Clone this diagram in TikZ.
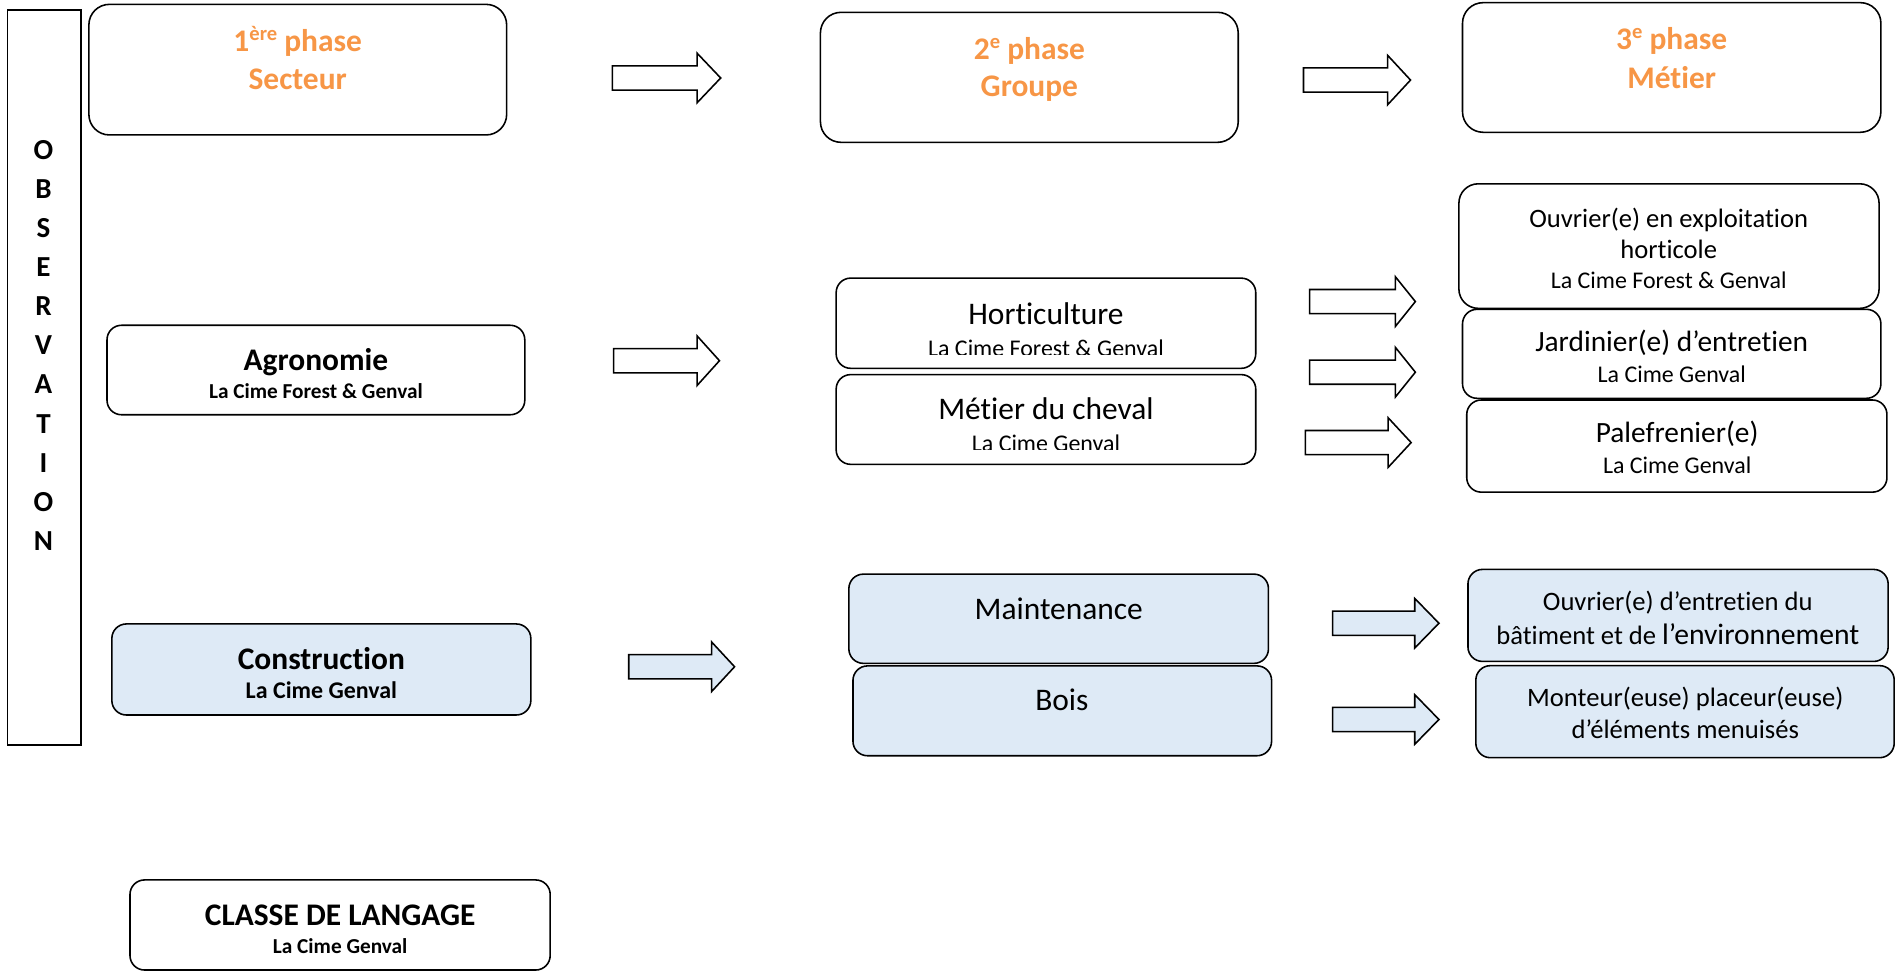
\documentclass[tikz,border=0pt]{standalone}
\usepackage{fontspec}
\setmainfont{Carlito}[Ligatures={NoCommon,NoRare,NoContextual}, Contextuals={NoAlternate}]
\definecolor{orangeh}{HTML}{F79646}
\definecolor{lblue}{HTML}{DEEAF6}
\newcommand\szL{\fontsize{26}{31}\selectfont}
\newcommand\szJ{\fontsize{24.3}{29}\selectfont}
\newcommand\szM{\fontsize{22}{26}\selectfont}
\newcommand\szS{\fontsize{19.8}{24}\selectfont}
\newcommand\szB{\fontsize{17.6}{21}\selectfont}
\newcommand\supx[1]{\raisebox{9pt}{\fontsize{17}{17}\selectfont #1}}
\newcommand\blockarrow[5]{\draw[#1] (#2,#5-10) -- (#3,#5-10) -- (#3,#5-20.5) -- (#4,#5) -- (#3,#5+20.5) -- (#3,#5+10) -- (#2,#5+10) -- cycle;}
\tikzset{
  rbox/.style={draw=black, line width=1.3pt, fill=white, anchor=north west, inner sep=0pt, outer sep=0pt},
  bbox/.style={rbox, fill=lblue},
  tallr/.style={rounded corners=17pt},
  shortr/.style={rounded corners=12pt},
  txt/.style={anchor=base, inner sep=0pt, outer sep=0pt, text=black},
  head/.style={txt, text=orangeh, font=\bfseries\szL},
  wa/.style={draw=black, line width=1.3pt, fill=white, line join=miter},
  ba/.style={wa, fill=lblue},
}
\begin{document}
\begin{tikzpicture}[x=1pt, y=-1pt]
\useasboundingbox (0,0) rectangle (1568,803);
\fill[white] (0,0) rectangle (1568,803);

% OBSERVATION column
\node[draw=black, line width=1.3pt, anchor=north west, inner sep=0pt, minimum width=61pt, minimum height=608pt] (obs) at (5.5,7.5) {};
\foreach \l [count=\i] in {O,B,S,E,R,V,A,T,I,O,N}
  \node[txt, font=\bfseries\fontsize{24}{28}\selectfont] (obs\i) at (36,{132+(\i-1)*32.3}) {\l};

% phase headers
\node[rbox, tallr, minimum width=345.5pt, minimum height=108pt] (p1) at (73.5,3.6) {};
\node[head] (p1a) at (246.2,42.7) {1\supx{ère} phase};
\node[head] (p1b) at (246.2,74.4) {Secteur};
\node[rbox, tallr, minimum width=345.5pt, minimum height=107.5pt] (p2) at (678.5,10.2) {};
\node[head] (p2a) at (851.3,49) {2\supx{e} phase};
\node[head] (p2b) at (851.3,80) {Groupe};
\node[rbox, tallr, minimum width=346pt, minimum height=107.2pt] (p3) at (1209.5,2.2) {};
\node[head] (p3a) at (1382.5,40.8) {3\supx{e} phase};
\node[head] (p3b) at (1382.5,73) {Métier};

\blockarrow{wa}{506.5}{576.5}{596}{64.5}
\blockarrow{wa}{1078}{1147.5}{1166.5}{66.2}

% Agronomie
\node[rbox, shortr, minimum width=345.5pt, minimum height=74pt] (agro) at (88.5,269) {};
\node[txt, font=\bfseries\szL] (agroa) at (261.3,306.5) {Agronomie};
\node[txt, font=\bfseries\szB] (agrob) at (261.3,329.5) {La Cime Forest \& Genval};
\blockarrow{wa}{507.5}{576.5}{595}{298.3}

\node[rbox, shortr, minimum width=347pt, minimum height=74.6pt] (horti) at (691.5,230) {};
\node[txt, font=\szL] (hortia) at (865,268) {Horticulture};
\begin{scope}
  \clip (691.5,230) rectangle (1038.5,293.3);
  \node[txt, font=\szS] (hortib) at (865,294.8) {La Cime Forest \& Genval};
\end{scope}
\node[rbox, shortr, minimum width=347pt, minimum height=74.2pt] (cheval) at (691.5,309.8) {};
\node[txt, font=\szL] (chevala) at (865,347.3) {Métier du cheval};
\begin{scope}
  \clip (691.5,309.8) rectangle (1038.5,371.4);
  \node[txt, font=\szS] (chevalb) at (865,373.8) {La Cime Genval};
\end{scope}

\blockarrow{wa}{1083}{1154}{1170.5}{249.4}
\blockarrow{wa}{1083}{1154}{1170.5}{307.8}
\blockarrow{wa}{1079.5}{1148}{1167}{366}

\node[rbox, rounded corners=16pt, minimum width=347.5pt, minimum height=103pt] (oeh) at (1206.5,152) {};
\node[txt, font=\szM] (oeha) at (1380,188) {Ouvrier(e) en exploitation};
\node[txt, font=\szM] (oehb) at (1380,213.6) {horticole};
\node[txt, font=\szS] (oehc) at (1380,238.7) {La Cime Forest \& Genval};
\node[rbox, shortr, minimum width=346pt, minimum height=73.6pt] (jard) at (1209.5,255.8) {};
\node[txt, font=\szJ] (jarda) at (1382.5,290.8) {Jardinier(e) d’entretien};
\node[txt, font=\szS] (jardb) at (1382.5,316.5) {La Cime Genval};
\node[rbox, shortr, minimum width=347.5pt, minimum height=76.2pt] (palef) at (1213,330.8) {};
\node[txt, font=\szJ] (palefa) at (1387,366) {Palefrenier(e)};
\node[txt, font=\szS] (palefb) at (1387,391.4) {La Cime Genval};

% Construction
\node[bbox, shortr, minimum width=346.5pt, minimum height=75.3pt] (constr) at (92.5,516) {};
\node[txt, font=\bfseries\szL] (constra) at (265.8,554) {Construction};
\node[txt, font=\bfseries\szS] (constrb) at (265.8,577.5) {La Cime Genval};
\blockarrow{ba}{520}{588.5}{607.5}{551.4}

\node[bbox, shortr, minimum width=347pt, minimum height=73.8pt] (maint) at (702,474.8) {};
\node[txt, font=\szL] (mainta) at (875.6,512.3) {Maintenance};
\node[bbox, shortr, minimum width=346.2pt, minimum height=74.3pt] (bois) at (705.4,550.7) {};
\node[txt, font=\szL] (boisa) at (878.2,587.7) {Bois};

\blockarrow{ba}{1102}{1170}{1190}{515.4}
\blockarrow{ba}{1102}{1170}{1190}{595}

\node[bbox, shortr, minimum width=347.5pt, minimum height=76.1pt] (oee) at (1214,470.9) {};
\node[txt, font=\szM] (oeea) at (1387.5,504.5) {Ouvrier(e) d’entretien du};
\node[txt, font=\szM] (oeeb) at (1387.5,533.4) {bâtiment et de {\fontsize{24.5}{29}\selectfont l’environnement}};
\node[bbox, shortr, minimum width=346pt, minimum height=76.1pt] (mont) at (1220.5,550.5) {};
\node[txt, font=\szM] (monta) at (1393.7,584.4) {Monteur(euse) placeur(euse)};
\node[txt, font=\szM] (montb) at (1393.7,610.6) {d’éléments menuisés};

% Classe de langage
\node[rbox, shortr, minimum width=347.5pt, minimum height=74.5pt] (classe) at (107.5,727.7) {};
\node[txt, font=\bfseries\szL] (classea) at (281.3,765) {CLASSE DE LANGAGE};
\node[txt, font=\bfseries\szB] (classeb) at (281.3,788.4) {La Cime Genval};
\end{tikzpicture}
\end{document}
